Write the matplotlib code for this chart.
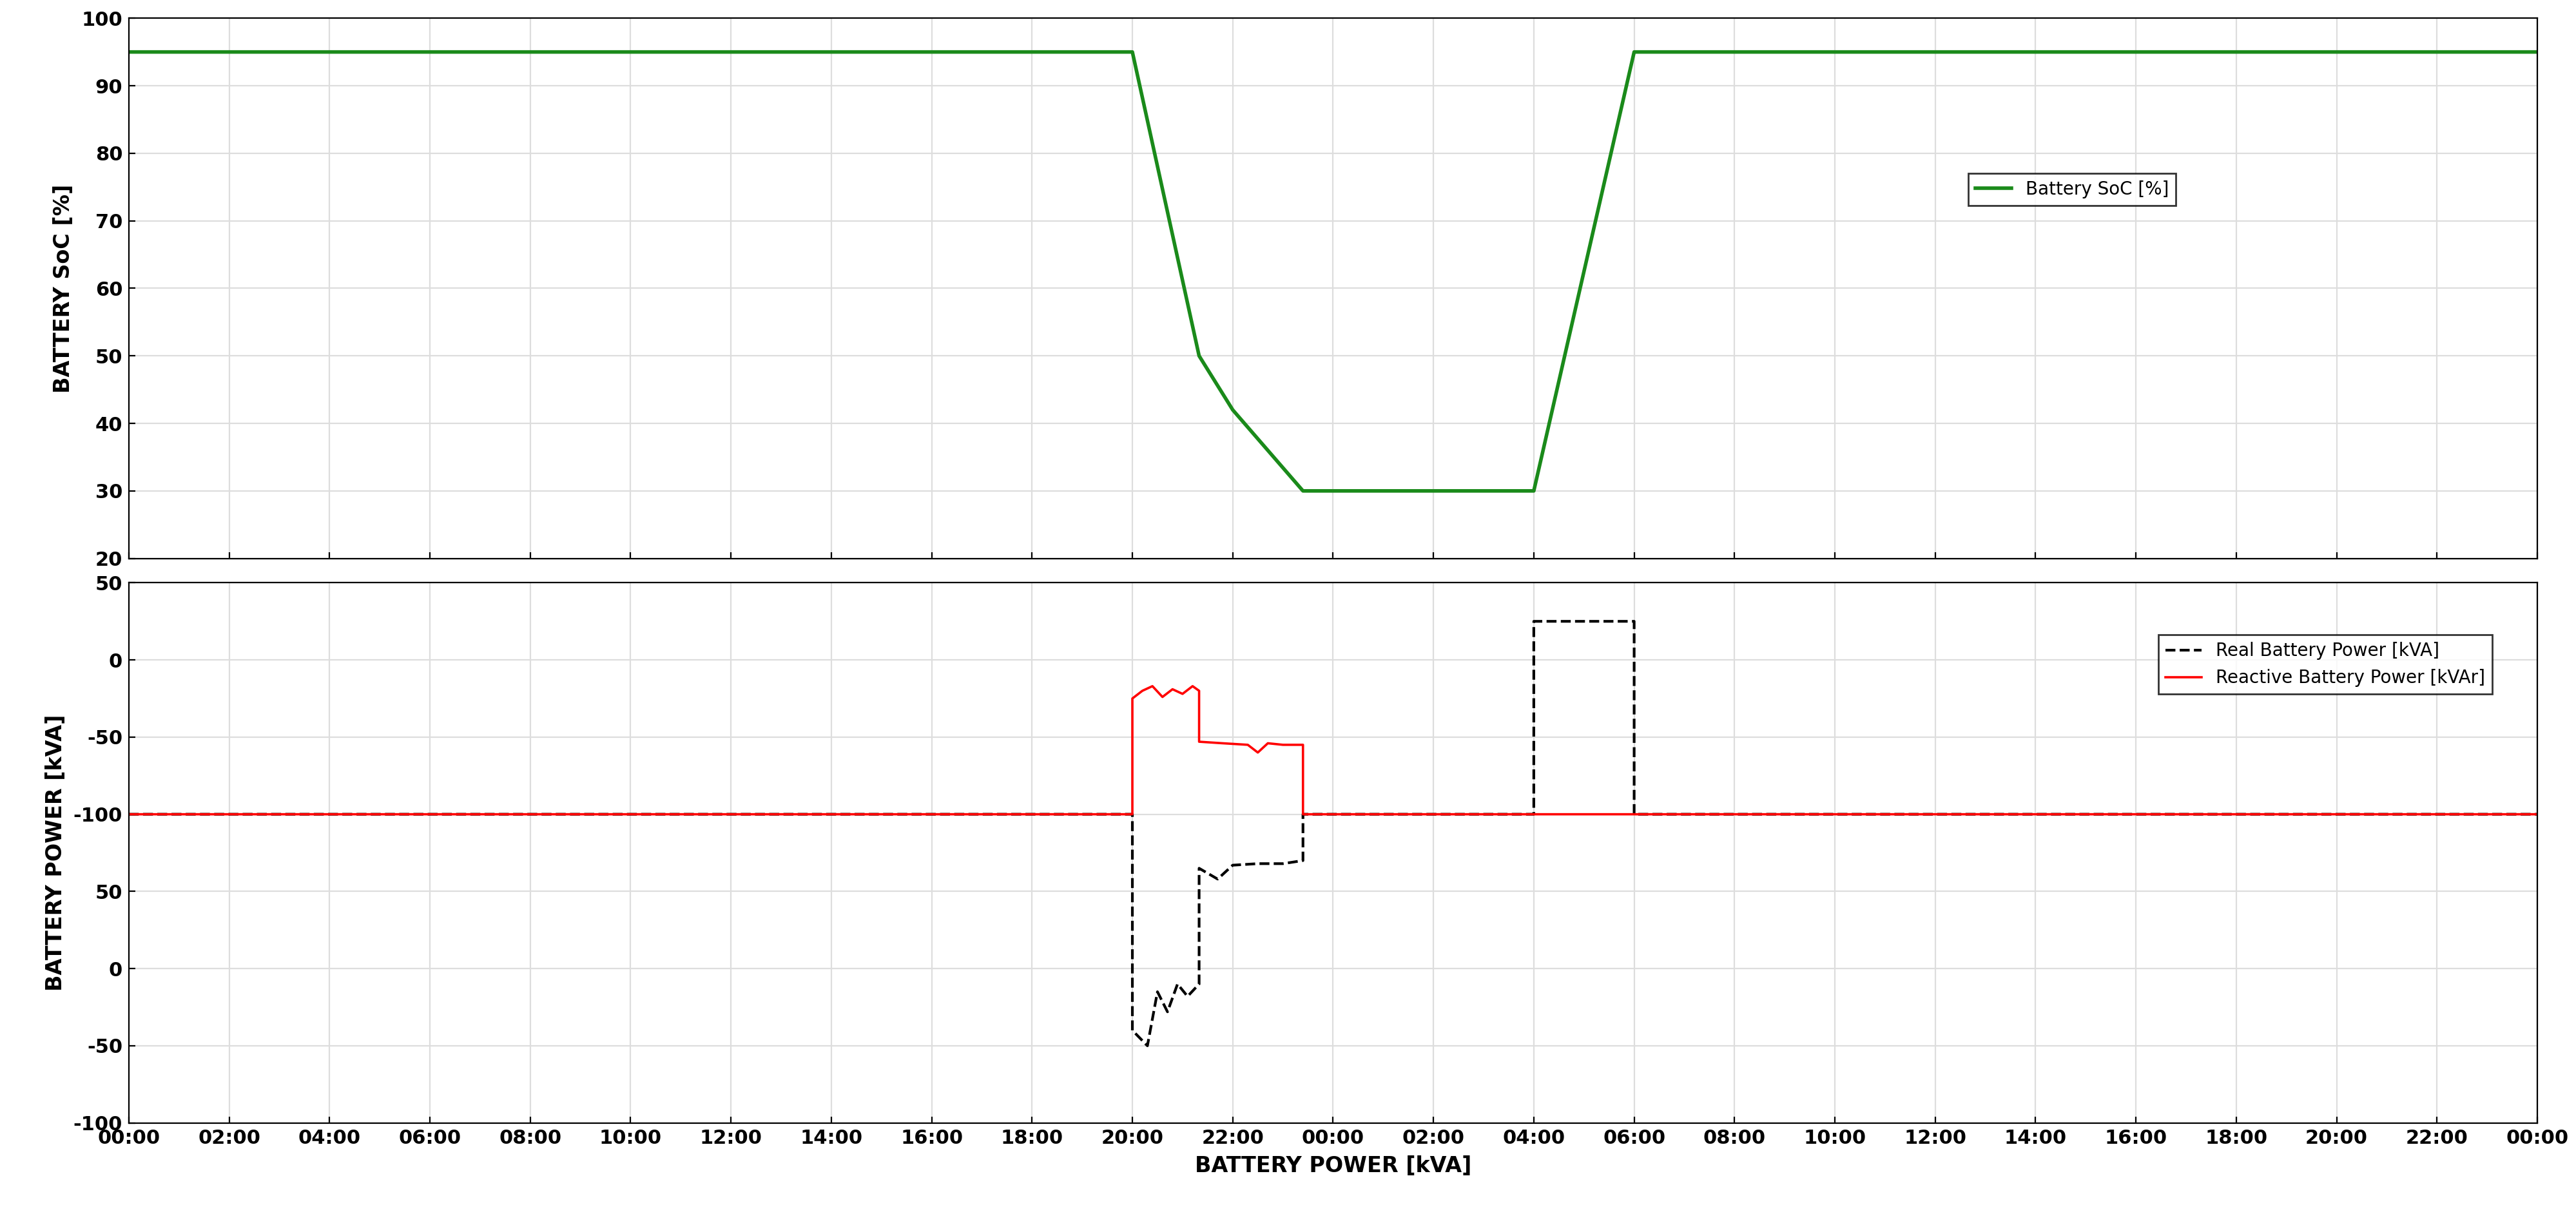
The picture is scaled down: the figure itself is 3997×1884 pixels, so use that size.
import matplotlib.pyplot as plt
import numpy as np

# hours from start (0..48)
soc_t = [0, 20, 21.33, 22, 23.4, 28, 30, 48]
soc_v = [95, 95, 50, 42, 30, 30, 95, 95]

# bottom panel values on internal linear scale; tick labels repeat as in the original
p_t = [0, 20, 20.0, 20.3, 20.5, 20.7, 20.9, 21.1, 21.33, 21.33, 21.7, 22.0, 22.5, 23.0, 23.4, 23.4,
       28, 28, 30, 30, 48]
real_v = [-100, -100, -240, -250, -215, -228, -210, -218, -210, -135, -142, -133, -132, -132, -130, -100,
          -100, 25, 25, -100, -100]
react_t = [0, 20, 20.0, 20.2, 20.4, 20.6, 20.8, 21.0, 21.2, 21.33, 21.33, 21.8, 22.3, 22.5, 22.7, 23.0, 23.4, 23.4, 48]
react_v = [-100, -100, -25, -20, -17, -24, -19, -22, -17, -20, -53, -54, -55, -60, -54, -55, -55, -100, -100]

x_ticks = np.arange(0, 49, 2)
x_labels = ['%02d:00' % (h % 24) for h in x_ticks]
y2_ticks = [50, 0, -50, -100, -150, -200, -250, -300]
y2_labels = ['50', '0', '-50', '-100', '50', '0', '-50', '-100']

fig, (ax1, ax2) = plt.subplots(2, 1, figsize=(19.985, 9.42), dpi=200, sharex=True)
fig.subplots_adjust(left=0.05, right=0.985, top=0.985, bottom=0.075, hspace=0.045)

ax1.plot(soc_t, soc_v, color='#1a8a1a', lw=2, label='Battery SoC [%]')
ax1.set_ylim(20, 100)
ax1.set_yticks(range(20, 101, 10))
ax1.set_ylabel('BATTERY SoC [%]', fontweight='bold', fontsize=12)
ax1.legend(loc='upper left', bbox_to_anchor=(0.76, 0.73), fontsize=10, fancybox=False, edgecolor='black')

ax2.plot(p_t, real_v, 'k--', lw=1.5, label='Real Battery Power [kVA]')
ax2.plot(react_t, react_v, color='red', lw=1.3, label='Reactive Battery Power [kVAr]')
ax2.set_ylim(-300, 50)
ax2.set_yticks(y2_ticks)
ax2.set_yticklabels(y2_labels)
ax2.set_ylabel('BATTERY POWER [kVA]', fontweight='bold', fontsize=12)
ax2.set_xlabel('BATTERY POWER [kVA]', fontweight='bold', fontsize=12)
ax2.legend(loc='upper right', bbox_to_anchor=(0.985, 0.92), fontsize=10, fancybox=False, edgecolor='black')

for ax in (ax1, ax2):
    ax.grid(True, color='#dddddd', lw=0.8)
    ax.set_xlim(0, 48)
    ax.tick_params(labelsize=11, direction='in')
    for lab in ax.get_yticklabels():
        lab.set_fontweight('bold')
ax2.set_xticks(x_ticks)
ax2.set_xticklabels(x_labels, fontweight='bold')

plt.savefig('out.png', dpi=200)
